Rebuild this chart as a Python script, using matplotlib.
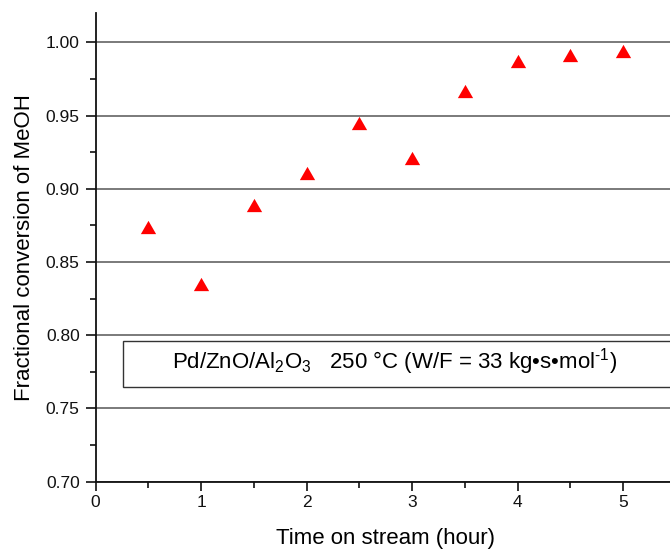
import matplotlib
matplotlib.use("Agg")
import matplotlib.pyplot as plt
from matplotlib.patches import Rectangle
from matplotlib.ticker import MultipleLocator, FormatStrFormatter

plt.rcParams['font.family'] = ['Liberation Sans', 'DejaVu Sans']
plt.rcParams['mathtext.fontset'] = 'custom'
plt.rcParams['mathtext.rm'] = 'Liberation Sans'
plt.rcParams['mathtext.it'] = 'Liberation Sans:italic'
plt.rcParams['mathtext.sf'] = 'Liberation Sans'

# Time on stream (hour) and fractional MeOH conversion
time_h = [0.5, 1.0, 1.5, 2.0, 2.5, 3.0, 3.5, 4.0, 4.5, 5.0]
conversion = [0.874, 0.835, 0.889, 0.911, 0.945, 0.921, 0.967, 0.987, 0.991, 0.994]

fig = plt.figure(figsize=(6.70, 5.49), dpi=100)
ax = fig.add_axes([0.1428, 0.1226, 0.866, 0.8537])

ax.set_xlim(0, 5.5)
ax.set_ylim(0.70, 1.02)

ax.yaxis.set_major_locator(MultipleLocator(0.05))
ax.yaxis.set_minor_locator(MultipleLocator(0.025))
ax.xaxis.set_major_locator(MultipleLocator(1))
ax.xaxis.set_minor_locator(MultipleLocator(0.5))
ax.yaxis.set_major_formatter(FormatStrFormatter('%.2f'))

ax.grid(axis='y', which='major', color='#7a7a7a', linewidth=1.4, zorder=1)
ax.set_axisbelow(True)

for side in ('top', 'right'):
    ax.spines[side].set_visible(False)
for side in ('left', 'bottom'):
    ax.spines[side].set_linewidth(1.3)
    ax.spines[side].set_color('#111111')

ax.tick_params(which='major', direction='out', width=1.2,
               labelsize=12.5, colors='#111111')
ax.tick_params(axis='y', which='major', length=7.5, pad=4)
ax.tick_params(axis='x', which='major', length=6.5, pad=3)
ax.tick_params(which='minor', direction='out', length=4, width=1.2,
               colors='#111111')

tri = [(-1.15, -1.0), (1.15, -1.0), (0.0, 1.0)]
ax.plot(time_h, conversion, linestyle='none', marker=tri, markersize=11,
        color='#ff0000', markeredgewidth=0, zorder=3, clip_on=False)

ax.set_xlabel('Time on stream (hour)', fontsize=16, labelpad=13)
ax.set_ylabel('Fractional conversion of MeOH', fontsize=16, labelpad=7.5)

# Annotation box with catalyst and conditions
fig.patches.append(Rectangle((123 / 670, 162 / 549), 0.9, 46 / 549,
                             transform=fig.transFigure, fill=True,
                             facecolor='white', edgecolor='#333333',
                             linewidth=1.0, zorder=2))
fig.text(395 / 670, 187 / 549,
         'Pd/ZnO/Al$_2$O$_3$   250 °C (W/F = 33 kg•s•mol$^{\u2010\\mathsf{1}}$)',
         fontsize=16, ha='center', va='center', zorder=4)

fig.savefig('out.png', dpi=100)
